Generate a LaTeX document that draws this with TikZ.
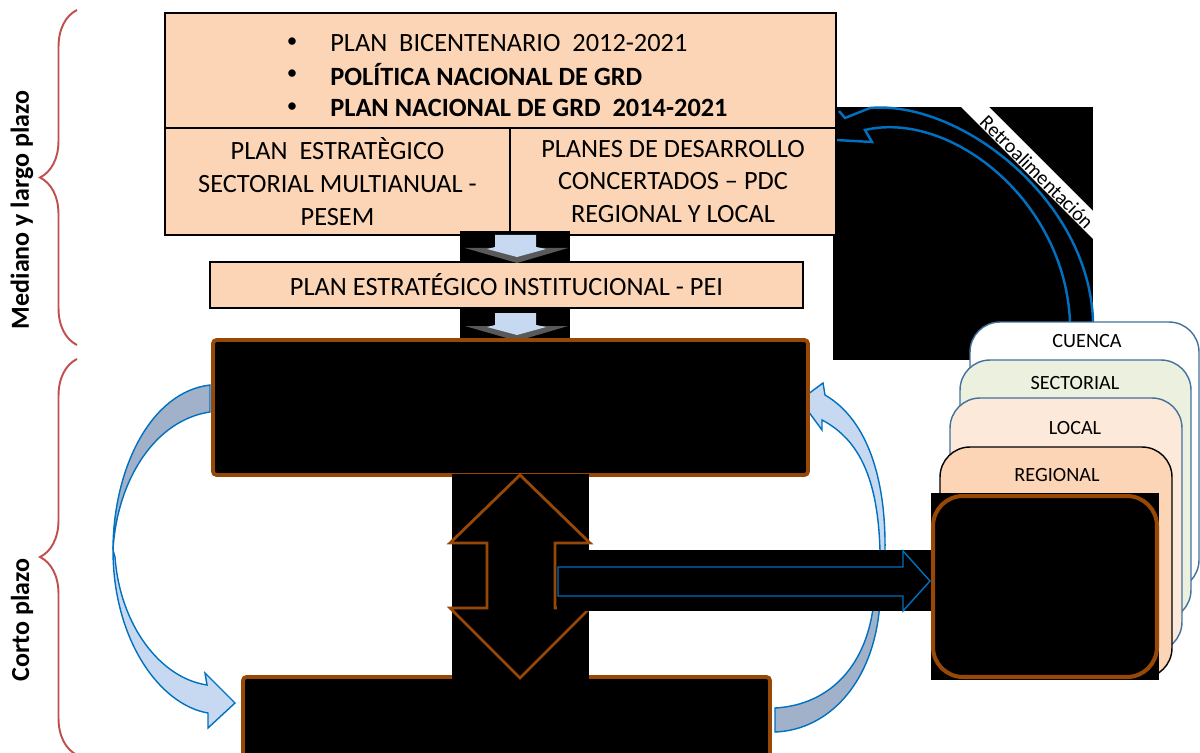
\documentclass[tikz,border=0pt]{standalone}
\usepackage{fontspec}
\setmainfont{Carlito}
\usepackage{tikz}
\usetikzlibrary{decorations.pathreplacing}
\definecolor{peach}{RGB}{251,213,181}
\definecolor{lightpeach}{RGB}{253,233,217}
\definecolor{lightgreen}{RGB}{235,241,222}
\definecolor{frame}{RGB}{152,72,6}
\definecolor{stackline}{RGB}{65,113,156}
\definecolor{arrowblue}{RGB}{0,112,192}
\definecolor{lightblue}{RGB}{198,217,241}
\definecolor{greyblue}{RGB}{160,177,201}
\definecolor{bracered}{RGB}{192,80,77}
\tikzstyle{planbox}=[draw=black,fill=peach,line width=1.3pt,inner sep=0pt]
\tikzstyle{blackbox}=[draw=frame,fill=black,line width=2.2pt,rounded corners=2pt,inner sep=0pt]
\tikzstyle{levelbox}=[draw=stackline,line width=0.8pt,rounded corners=0.6cm,inner sep=0pt]
\tikzstyle{plantext}=[font=\fontsize{15}{18.7}\selectfont,align=center,inner sep=0pt]
\tikzstyle{leveltext}=[font=\fontsize{11.5}{13}\selectfont,inner sep=0pt]
\tikzstyle{bullet}=[font=\fontsize{12}{14}\selectfont,inner sep=0pt]
\tikzstyle{bracket}=[draw=bracered,line width=1.1pt,decorate,decoration={brace,amplitude=0.74cm}]
\tikzstyle{blockarrow}=[draw=arrowblue,line width=0.8pt]

\begin{document}
\begin{tikzpicture}[x=0.02cm,y=-0.02cm]
\useasboundingbox (0,0) rectangle (1200,753);

% retroalimentacion
\fill[black] (833,107) rectangle (1093,360);
\fill[white] (961,107) -- (989,107) -- (1093,211) -- (1093,239) -- cycle;
\node[leveltext,rotate=-45] (retro) at (1037,172) {Retroalimentación};
\draw[arrowblue,line width=1.4pt] (1093,322) .. controls (1090,200) and (960,100) .. (870,108) -- (845,118) -- (839,111);
\draw[arrowblue,line width=1.4pt] (1070,322) .. controls (1065,200) and (950,110) .. (865,130) -- (872,142) -- (836,140);

% planes de mediano y largo plazo
\node[planbox,minimum width=13.42cm,minimum height=2.3cm] (nacional) at (500.5,70.5) {};
\node[planbox,minimum width=6.9cm,minimum height=2.14cm] (pesem) at (337.5,181.5) {};
\node[planbox,minimum width=6.52cm,minimum height=2.14cm] (pdc) at (673,181.5) {};
\node[planbox,minimum width=11.86cm,minimum height=0.92cm] (pei) at (506.5,285) {};

\node[bullet] (b1) at (292,43) {•};
\node[bullet] (b2) at (292,75) {•};
\node[bullet] (b3) at (292,108) {•};
\node[plantext,anchor=west] (bicentenario) at (330,43) {PLAN~ BICENTENARIO~ 2012-2021};
\node[plantext,anchor=west,font=\fontsize{15}{18.7}\selectfont\bfseries] (politica) at (330,75) {POLÍTICA NACIONAL DE GRD};
\node[plantext,anchor=west,font=\fontsize{15}{18.7}\selectfont\bfseries] (plangrd) at (330,108) {PLAN NACIONAL DE GRD~ 2014-2021};
\node[plantext] (pesemtext) at (pesem) {PLAN~ ESTRATÈGICO\\SECTORIAL MULTIANUAL -\\PESEM};
\node[plantext] (pdctext) at (pdc) {PLANES DE DESARROLLO\\CONCERTADOS – PDC\\REGIONAL Y LOCAL};
\node[plantext] (peitext) at (pei) {PLAN ESTRATÉGICO INSTITUCIONAL - PEI};

% flechas hacia abajo
\foreach \dy in {0,78} {
  \fill[black] (460,231+\dy) rectangle (570,263+\dy);
  \fill[gray!70!black] (465,248+\dy) -- (568,248+\dy) -- (517,263+\dy) -- cycle;
  \fill[lightblue] (495,235+\dy) -- (536,235+\dy) -- (536,247+\dy) -- (546,249+\dy) -- (517,257+\dy) -- (487,249+\dy) -- (495,247+\dy) -- cycle;
}

% flechas curvas
\filldraw[blockarrow,fill=greyblue] (210,385) .. controls (150,392) and (113,470) .. (113,550) .. controls (117,480) and (155,420) .. (210,412) -- cycle;
\filldraw[blockarrow,fill=lightblue] (113,550) .. controls (113,640) and (160,705) .. (208,713) -- (208,728) -- (235,703) -- (205,673) -- (207,685) .. controls (160,678) and (120,625) .. (115,557) -- cycle;
\filldraw[blockarrow,fill=greyblue] (775,708) .. controls (830,705) and (868,665) .. (874,600) -- (880,600) .. controls (876,680) and (830,730) .. (775,732) -- cycle;
\filldraw[blockarrow,fill=lightblue] (880,551) .. controls (878,480) and (860,440) .. (822,420) -- (822,430) -- (800,400) -- (823,383) -- (825,395) .. controls (868,420) and (886,480) .. (885,551) -- cycle;

% corto plazo
\node[blackbox,minimum width=11.9cm,minimum height=2.7cm] (operativo) at (510.5,407.5) {};
\node[blackbox,minimum width=10.54cm,minimum height=1.66cm] (presupuesto) at (506.5,718.5) {};

% niveles
\node[levelbox,fill=white,minimum width=4.58cm,minimum height=5.36cm] (cuenca) at (1084.5,456) {};
\node[leveltext] (cuencatext) at (1087,341) {CUENCA};
\node[levelbox,fill=lightgreen,minimum width=4.62cm,minimum height=5.2cm] (sectorial) at (1075.5,490) {};
\node[leveltext] (sectorialtext) at (1075,383) {SECTORIAL};
\node[levelbox,fill=lightpeach,minimum width=4.64cm,minimum height=5.08cm] (local) at (1066,525) {};
\node[leveltext] (localtext) at (1075,428) {LOCAL};
\node[levelbox,draw=black,fill=peach,minimum width=4.64cm,minimum height=4.62cm] (regional) at (1056,562.5) {};
\node[leveltext] (regionaltext) at (1057,475) {REGIONAL};

% flecha doble
\fill[black] (452,474) rectangle (589,679);
\draw[frame,line width=1.6pt] (520,475) -- (590,543) -- (555,543) -- (555,608) -- (590,608) -- (520,678) -- (450,608) -- (487,608) -- (487,543) -- (450,543) -- cycle;

% flecha a la derecha
\fill[black] (557,550) rectangle (935,611);
\draw[blockarrow] (558,567) -- (903,567) -- (903,551) -- (930,581) -- (903,611) -- (903,596) -- (558,596) -- cycle;

% nivel de gobierno
\fill[black] (931,493) rectangle (1159,680);
\node[levelbox,draw=frame,line width=2.3pt,minimum width=4.48cm,minimum height=3.62cm] (gobierno) at (1045,586.5) {};

% llaves
\draw[bracket] (77,345) -- (77,10);
\draw[bracket] (77,755) -- (77,359);
\node[rotate=90,font=\fontsize{14.8}{16}\selectfont\bfseries] (mediano) at (22,210) {Mediano y largo plazo};
\node[rotate=90,font=\fontsize{14.8}{16}\selectfont\bfseries] (corto) at (22,620) {Corto plazo};
\end{tikzpicture}
\end{document}
